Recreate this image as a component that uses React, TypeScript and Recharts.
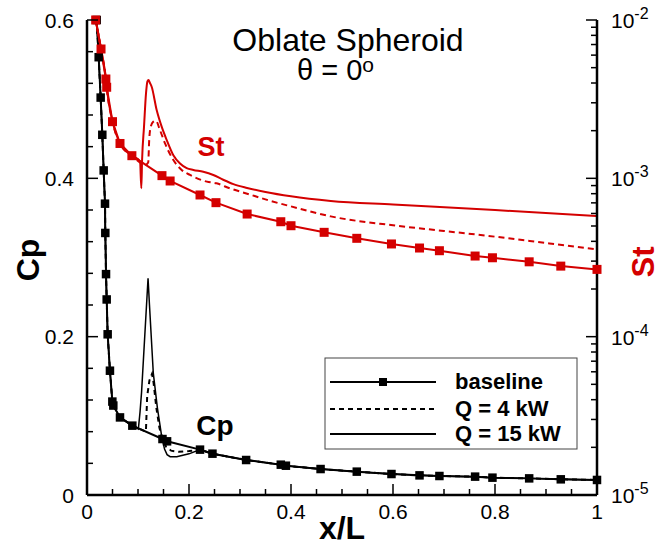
import React from 'react';
import { LineChart, Line, XAxis, YAxis } from 'recharts';

const RED = '#d40000';
const FONT = '"Liberation Sans", Arial, Helvetica, sans-serif';

// ---- Cp (left axis) ----
const cpBaseX = [0.019, 0.0229, 0.0268, 0.03, 0.0327, 0.0353, 0.0359, 0.0373, 0.0386, 0.0405, 0.045, 0.0497, 0.0516, 0.0647, 0.0889, 0.148, 0.157, 0.2216, 0.246, 0.312, 0.38, 0.39, 0.458, 0.529, 0.597, 0.652, 0.691, 0.761, 0.795, 0.867, 0.929, 1.0];
const cpBaseY = [0.6, 0.553, 0.502, 0.455, 0.41, 0.368, 0.331, 0.279, 0.247, 0.203, 0.157, 0.118, 0.113, 0.098, 0.0876, 0.0707, 0.0678, 0.0573, 0.0522, 0.0442, 0.0383, 0.037, 0.0328, 0.0295, 0.0265, 0.0248, 0.024, 0.0232, 0.0219, 0.021, 0.0198, 0.019];

const cp4X = [0.0889, 0.1155, 0.118, 0.1225, 0.1275, 0.1305, 0.136, 0.142, 0.148, 0.155, 0.165, 0.18, 0.2, 0.2216];
const cp4Y = [0.0876, 0.08, 0.125, 0.145, 0.153, 0.142, 0.11, 0.085, 0.0707, 0.061, 0.056, 0.0545, 0.0555, 0.0573];

const cp15X = [0.0889, 0.1007, 0.104, 0.107, 0.1197, 0.1225, 0.13, 0.138, 0.1465, 0.152, 0.157, 0.163, 0.176, 0.2, 0.2216];
const cp15Y = [0.0876, 0.0834, 0.105, 0.13, 0.2737, 0.24, 0.154, 0.11, 0.0737, 0.058, 0.051, 0.0484, 0.0484, 0.052, 0.0573];

// ---- St (right axis, log) ----
const stBaseX = [0.017, 0.0275, 0.037, 0.0386, 0.05, 0.0647, 0.088, 0.147, 0.163, 0.2216, 0.2529, 0.314, 0.38, 0.4, 0.465, 0.529, 0.597, 0.652, 0.691, 0.761, 0.795, 0.867, 0.929, 1.0];
const stBaseY = [1.0e-2, 6.56e-3, 4.24e-3, 3.76e-3, 2.28e-3, 1.66e-3, 1.39e-3, 1.04e-3, 9.62e-4, 7.85e-4, 7.02e-4, 5.95e-4, 5.32e-4, 5.02e-4, 4.56e-4, 4.18e-4, 3.85e-4, 3.63e-4, 3.49e-4, 3.23e-4, 3.15e-4, 2.97e-4, 2.79e-4, 2.66e-4];

const st4X = [0.115, 0.12, 0.122, 0.125, 0.13, 0.1351, 0.143, 0.153, 0.169, 0.1856, 0.202, 0.235, 0.254, 0.28, 0.314, 0.36, 0.4, 0.478, 0.6, 0.7, 0.8, 0.9, 1.0];
const st4Y = [1.22e-3, 1.26e-3, 1.75e-3, 2.12e-3, 2.28e-3, 2.31e-3, 2.02e-3, 1.66e-3, 1.31e-3, 1.13e-3, 1.05e-3, 9.53e-4, 9.3e-4, 8.65e-4, 8.0e-4, 7.2e-4, 6.65e-4, 5.75e-4, 5.05e-4, 4.65e-4, 4.28e-4, 3.9e-4, 3.56e-4];

const st15X = [0.104, 0.1065, 0.108, 0.1118, 0.1157, 0.1185, 0.1205, 0.1235, 0.1268, 0.1366, 0.1464, 0.1562, 0.1693, 0.1824, 0.1954, 0.2085, 0.228, 0.2477, 0.267, 0.287, 0.314, 0.35, 0.4, 0.478, 0.6, 0.8, 1.0];
const st15Y = [1.28e-3, 8.65e-4, 1.3e-3, 2.12e-3, 3.44e-3, 4.1e-3, 4.18e-3, 4.0e-3, 3.79e-3, 2.7e-3, 2.12e-3, 1.75e-3, 1.4e-3, 1.24e-3, 1.16e-3, 1.13e-3, 1.1e-3, 1.05e-3, 9.8e-4, 9.2e-4, 8.7e-4, 8.2e-4, 7.7e-4, 7.2e-4, 6.84e-4, 6.31e-4, 5.78e-4];

// ---- ticks ----
const xTicks = [0, 0.2, 0.4, 0.6, 0.8, 1];
const xTickLabels = ['0', '0.2', '0.4', '0.6', '0.8', '1'];
const xMinorTicks = [0.05, 0.1, 0.15, 0.25, 0.3, 0.35, 0.45, 0.5, 0.55, 0.65, 0.7, 0.75, 0.85, 0.9, 0.95];
const cpTicks = [0, 0.2, 0.4, 0.6];
const cpTickLabels = ['0', '0.2', '0.4', '0.6'];
const cpMinorTicks = [0.04, 0.08, 0.12, 0.16, 0.24, 0.28, 0.32, 0.36, 0.44, 0.48, 0.52, 0.56];
const stTicks = [1e-5, 1e-4, 1e-3, 1e-2];
const stTickExps = ['-5', '-4', '-3', '-2'];
const stMinorTicks = [2e-5, 3e-5, 4e-5, 5e-5, 6e-5, 7e-5, 8e-5, 9e-5, 2e-4, 3e-4, 4e-4, 5e-4, 6e-4, 7e-4, 8e-4, 9e-4, 2e-3, 3e-3, 4e-3, 5e-3, 6e-3, 7e-3, 8e-3, 9e-3];

const allX = [...xTicks, ...xMinorTicks].sort((a, b) => a - b);
const allCp = [...cpTicks, ...cpMinorTicks].sort((a, b) => a - b);
const allSt = [...stTicks, ...stMinorTicks].sort((a, b) => a - b);

const toRows = (xs: number[], ys: number[]) => xs.map((x, i) => ({ x, v: ys[i] }));
const splice = (bx: number[], by: number[], dx: number[], dy: number[]) => {
  const lo = dx[0];
  const hi = dx[dx.length - 1];
  const out: { x: number; v: number }[] = [];
  bx.forEach((x, i) => { if (x < lo) out.push({ x, v: by[i] }); });
  dx.forEach((x, i) => out.push({ x, v: dy[i] }));
  bx.forEach((x, i) => { if (x > hi) out.push({ x, v: by[i] }); });
  return out;
};

const cpBase = toRows(cpBaseX, cpBaseY);
const cp4 = splice(cpBaseX, cpBaseY, cp4X, cp4Y);
const cp15 = splice(cpBaseX, cpBaseY, cp15X, cp15Y);
const stBase = toRows(stBaseX, stBaseY);
const st4 = splice(stBaseX, stBaseY, st4X, st4Y);
const st15 = splice(stBaseX, stBaseY, st15X, st15Y);

const square = (size: number, color: string) => (props: any) => {
  const { cx, cy, index } = props;
  if (cx == null || cy == null) return <g key={`d${index}`} />;
  return <rect key={`d${index}`} x={cx - size / 2} y={cy - size / 2} width={size} height={size} fill={color} />;
};

const findIdx = (arr: number[], v: number) => arr.findIndex((t) => Math.abs(t - v) <= Math.abs(t) * 1e-6 + 1e-12);

const TICK_MAJOR = 11;
const TICK_MINOR = 6;

const XTick = (props: any) => {
  const { x, y, payload } = props;
  const i = findIdx(xTicks, payload.value);
  const len = i >= 0 ? TICK_MAJOR : TICK_MINOR;
  return (
    <g>
      <line x1={x} x2={x} y1={y} y2={y - len} stroke="#000" strokeWidth={1.5} />
      {i >= 0 && (
        <text x={x} y={y + 24} fontSize={21} fontFamily={FONT} fill="#000" textAnchor="middle">{xTickLabels[i]}</text>
      )}
    </g>
  );
};

const CpTick = (props: any) => {
  const { x, y, payload } = props;
  const i = findIdx(cpTicks, payload.value);
  const len = i >= 0 ? TICK_MAJOR : TICK_MINOR;
  return (
    <g>
      <line x1={x} x2={x + len} y1={y} y2={y} stroke="#000" strokeWidth={1.5} />
      {i >= 0 && (
        <text x={x - 13} y={y + 7.5} fontSize={21} fontFamily={FONT} fill="#000" textAnchor="end">{cpTickLabels[i]}</text>
      )}
    </g>
  );
};

const StTick = (props: any) => {
  const { x, y, payload } = props;
  const i = findIdx(stTicks, payload.value);
  const len = i >= 0 ? TICK_MAJOR : TICK_MINOR;
  return (
    <g>
      <line x1={x} x2={x - len} y1={y} y2={y} stroke="#000" strokeWidth={1.5} />
      {i >= 0 && (
        <text x={x + 14} y={y + 8} fontSize={21} fontFamily={FONT} fill="#000" textAnchor="start">
          10<tspan dy={-9} fontSize={16}>{stTickExps[i]}</tspan>
        </text>
      )}
    </g>
  );
};

const axisLineStyle = { stroke: '#000', strokeWidth: 2.5 };

export default function App() {
  return (
    <div style={{ position: 'absolute', left: 0, top: 0, width: 662, height: 558, background: '#fff' }}>
      <LineChart width={662} height={558} margin={{ top: 20, right: 64, bottom: 62, left: 86 }}>
        <XAxis xAxisId="x" type="number" dataKey="x" domain={[0, 1]} ticks={allX} interval={0}
          height={1} tickSize={0} tickMargin={0} tickLine={false} axisLine={axisLineStyle}
          tick={<XTick />} />
        <YAxis yAxisId="cp" type="number" domain={[0, 0.6]} ticks={allCp} interval={0}
          width={1} tickSize={0} tickMargin={0} tickLine={false} axisLine={axisLineStyle}
          tick={<CpTick />} />
        <YAxis yAxisId="st" orientation="right" type="number" scale="log" domain={[1e-5, 1e-2]}
          ticks={allSt} interval={0} width={1} tickSize={0} tickMargin={0} tickLine={false}
          axisLine={axisLineStyle} tick={<StTick />} />

        <Line xAxisId="x" yAxisId="cp" data={cp15} dataKey="v" type="linear" stroke="#000" strokeWidth={1.5}
          dot={false} activeDot={false} isAnimationActive={false} />
        <Line xAxisId="x" yAxisId="cp" data={cp4} dataKey="v" type="linear" stroke="#000" strokeWidth={2}
          strokeDasharray="5 4" dot={false} activeDot={false} isAnimationActive={false} />
        <Line xAxisId="x" yAxisId="cp" data={cpBase} dataKey="v" type="linear" stroke="#000" strokeWidth={2}
          dot={square(8.5, '#000')} activeDot={false} isAnimationActive={false} />

        <Line xAxisId="x" yAxisId="st" data={st15} dataKey="v" type="monotone" stroke={RED} strokeWidth={2}
          dot={false} activeDot={false} isAnimationActive={false} />
        <Line xAxisId="x" yAxisId="st" data={st4} dataKey="v" type="monotone" stroke={RED} strokeWidth={2}
          strokeDasharray="6 4" dot={false} activeDot={false} isAnimationActive={false} />
        <Line xAxisId="x" yAxisId="st" data={stBase} dataKey="v" type="linear" stroke={RED} strokeWidth={2}
          dot={square(9, RED)} activeDot={false} isAnimationActive={false} />
      </LineChart>

      <svg width={662} height={558} style={{ position: 'absolute', left: 0, top: 0, pointerEvents: 'none' }}
        fontFamily={FONT}>
        <text x={348} y={51} fontSize={32} textAnchor="middle" fill="#000">Oblate Spheroid</text>
        <text x={297} y={80} fontSize={29} textAnchor="start" fill="#000">
          θ = 0<tspan dy={-8} fontSize={21}>o</tspan>
        </text>

        <text x={211} y={156} fontSize={27} fontWeight="bold" textAnchor="middle" fill={RED}>St</text>
        <text x={215} y={435} fontSize={28} fontWeight="bold" textAnchor="middle" fill="#000">Cp</text>

        <text x={342} y={539} fontSize={32} fontWeight="bold" textAnchor="middle" fill="#000">x/L</text>
        <text transform="translate(39,260) rotate(-90)" fontSize={32} fontWeight="bold" textAnchor="middle" fill="#000">Cp</text>
        <text transform="translate(654,262) rotate(-90)" fontSize={31} fontWeight="bold" textAnchor="middle" fill={RED}>St</text>

        <rect x={325} y={358} width={252} height={91} fill="#fff" stroke="#444" strokeWidth={1} />
        <line x1={330} x2={436} y1={382} y2={382} stroke="#000" strokeWidth={2} />
        <rect x={379} y={378} width={8} height={8} fill="#000" />
        <line x1={330} x2={436} y1={409} y2={409} stroke="#000" strokeWidth={2} strokeDasharray="5 4" />
        <line x1={330} x2={436} y1={434} y2={434} stroke="#000" strokeWidth={2} />
        <text x={455} y={389} fontSize={22} fontWeight="bold" fill="#000">baseline</text>
        <text x={455} y={416} fontSize={22} fontWeight="bold" fill="#000">Q = 4 kW</text>
        <text x={455} y={441} fontSize={22} fontWeight="bold" fill="#000">Q = 15 kW</text>
      </svg>
    </div>
  );
}
